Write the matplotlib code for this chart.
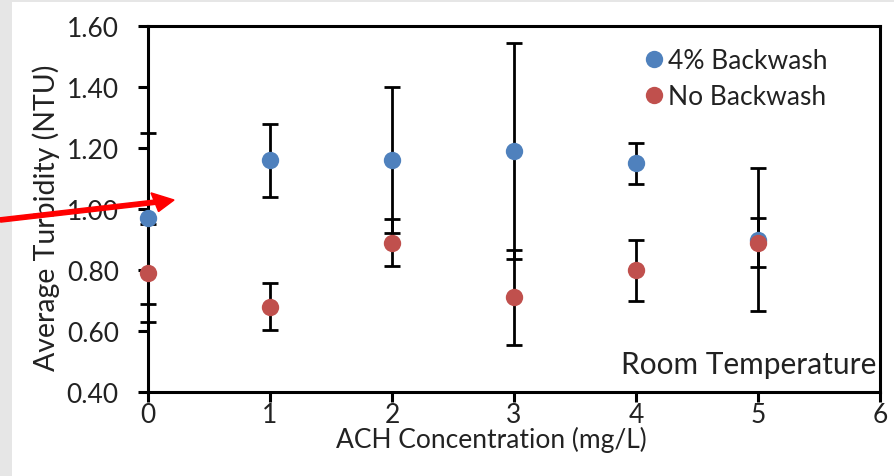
import matplotlib
matplotlib.use('Agg')
import matplotlib.pyplot as plt
from matplotlib.patches import Rectangle, FancyArrow

plt.rcParams['font.family'] = ['Lato', 'DejaVu Sans']

# ACH concentration (mg/L)
conc = [0, 1, 2, 3, 4, 5]
# 4% backwash
bw_mean = [0.97, 1.16, 1.16, 1.19, 1.15, 0.90]
bw_err = [0.28, 0.12, 0.24, 0.355, 0.067, 0.235]
# no backwash
nb_mean = [0.79, 0.68, 0.89, 0.71, 0.80, 0.89]
nb_err = [0.16, 0.078, 0.078, 0.155, 0.10, 0.08]

yticks = [0.4, 0.6, 0.8, 1.0, 1.2, 1.4, 1.6]

blue = '#4f81bd'
red = '#c0504d'
txt = '#222222'

fig = plt.figure(figsize=(8.94, 4.77), dpi=100, facecolor='#e6e6e6')
fig.patches.append(Rectangle((12 / 894, 0), 1, 1 - 3 / 477, transform=fig.transFigure,
                             facecolor='white', edgecolor='none', zorder=-10))

ax = fig.add_axes([148 / 894, 1 - 393 / 477, 732 / 894, 366 / 477])
ax.set_facecolor('white')

ax.errorbar(conc, bw_mean, yerr=bw_err, fmt='none', ecolor='black', elinewidth=2,
            capsize=5.5, capthick=2, zorder=2, clip_on=False)
ax.errorbar(conc, nb_mean, yerr=nb_err, fmt='none', ecolor='black', elinewidth=2,
            capsize=5.5, capthick=2, zorder=2, clip_on=False)
ax.plot(conc, bw_mean, 'o', color=blue, markersize=12.5, markeredgewidth=0,
        label='4% Backwash', zorder=3, clip_on=False)
ax.plot(conc, nb_mean, 'o', color=red, markersize=12.5, markeredgewidth=0,
        label='No Backwash', zorder=4, clip_on=False)

ax.set_xlim(0, 6)
ax.set_ylim(0.4, 1.6)
ax.set_yticks(yticks)
ax.set_yticklabels([f'{v:.2f}' for v in yticks])
ax.set_xticks(range(7))
for s in ax.spines.values():
    s.set_linewidth(2.2)
ax.tick_params(axis='both', direction='out', length=7, width=2.2, labelsize=19,
               colors='black', labelcolor=txt)
ax.tick_params(axis='y', pad=14)
ax.tick_params(axis='x', pad=0.5)

ax.set_xlabel('ACH Concentration (mg/L)', fontsize=19, color=txt)
ax.xaxis.set_label_coords(0.469, -0.092)
ax.set_ylabel('Average Turbidity (NTU)', fontsize=20.5, color=txt)
ax.yaxis.set_label_coords(-0.12, 0.48)

ax.legend(loc='upper right', frameon=False, fontsize=19, handletextpad=0.0,
          borderaxespad=0.0, labelspacing=0.42, handlelength=1.1,
          bbox_to_anchor=(0.943, 0.968), labelcolor=txt)

ax.text(0.995, 0.077, 'Room Temperature', transform=ax.transAxes, ha='right',
        va='center', fontsize=21.5, color=txt)

# red arrow pointing into the chart
fig.add_artist(FancyArrow(0, 1 - 221 / 477, 174 / 894, 20 / 477, width=0.009,
                          head_width=0.04, head_length=0.022,
                          length_includes_head=True, color='#ff0000',
                          transform=fig.transFigure, zorder=10))

fig.savefig('out.png', dpi=100, facecolor=fig.get_facecolor())
